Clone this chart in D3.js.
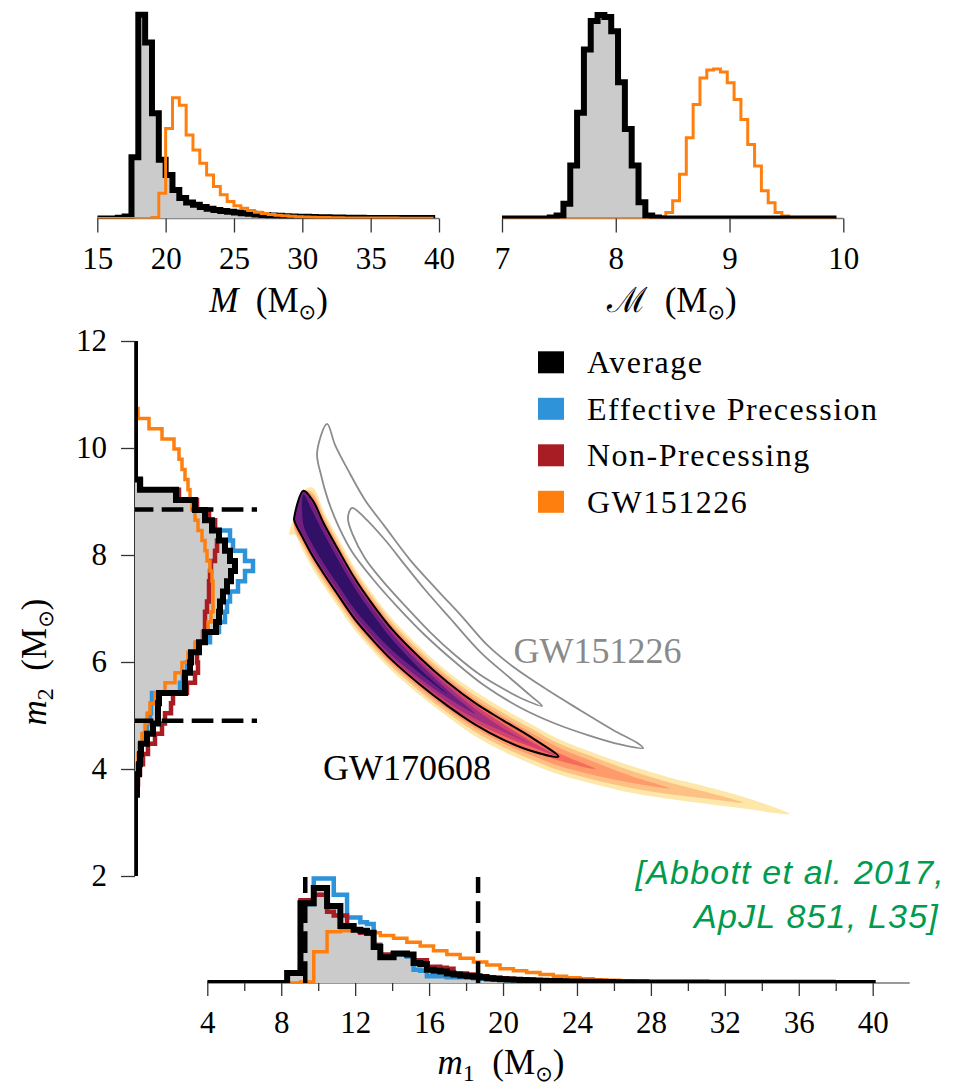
<!DOCTYPE html>
<html><head><meta charset="utf-8">
<script src="https://cdnjs.cloudflare.com/ajax/libs/d3/7.8.5/d3.min.js"></script>
<style>
body{margin:0;background:#fff;}
svg{display:block;}
</style></head><body>
<svg id="chart" width="957" height="1088"></svg>
<script>
// ---------------- DATA ----------------
// total mass M histogram (bins of 0.5 starting at 15)
const totalMassStart = 15, totalMassWidth = 0.5;
const totalMassAverage = [0,0,0,0.004,0.01,0.30,1.0,0.864,0.517,0.288,0.214,0.14,0.1,0.079,0.067,0.056,0.048,0.042,0.037,0.033,0.029,0.026,0.023,0.02,0.017,0.015,0.013,0.011,0.01,0.009,0.008,0.007,0.006,0.006,0.005,0.005,0.004,0.004,0.004,0.003,0.003,0.003,0.003,0.002,0.002,0.002,0.002,0.002,0.002];
const totalMassGW151226 = [0,0,0,0,0,0,0,0,0.005,0.124,0.442,0.592,0.556,0.41,0.336,0.271,0.214,0.157,0.116,0.083,0.063,0.05,0.039,0.031,0.025,0.02,0.016,0.013,0.011,0.009,0.007,0.006,0.005,0.005,0.004,0.004,0.003,0.003,0.003,0.002,0.002,0.002,0.002,0.002,0.001,0.001,0.001,0.001,0.001];
// chirp mass histogram (bins of 0.06 starting at 7)
const chirpStart = 7, chirpWidth = 0.06;
const chirpAverage = [0,0,0,0,0,0,0,0.005,0.015,0.072,0.26,0.52,0.83,0.97,1.0,0.99,0.92,0.67,0.44,0.26,0.08,0.015,0.005,0,0,0,0,0,0,0,0,0,0,0,0,0,0,0,0,0,0,0,0,0,0,0,0,0,0];
const chirpGW151226 = [0,0,0,0,0,0,0,0,0,0,0,0,0,0,0,0,0,0,0,0,0,0,0,0.01,0.03,0.087,0.217,0.397,0.56,0.69,0.73,0.735,0.72,0.667,0.585,0.487,0.364,0.258,0.136,0.078,0.03,0.012,0.005,0,0,0,0,0,0];
// m1 histograms
const m1Start = 4, m1Width = 0.36;
const m1Average = [0,0,0,0,0,0,0,0,0,0,0,0,
 0.105,0.105,0.84,0.84,1.0,1.0,0.81,0.81,0.6,0.6,
 0.56,0.55,0.53,0.38,0.27,0.27,0.31,0.31,0.3,0.21,
 0.2,0.14,0.13,0.12,0.1,0.09,0.08,0.075,0.065,0.06,
 0.05,0.045,0.04,0.037,0.034,0.031,0.028,0.026,0.024,0.022,
 0.02,0.018,0.017,0.015,0.014,0.013,0.012,0.011,0.01,0.009,
 0.008,0.008,0.007,0.007,0.006,0.006,0.005,0.005,0.005,0.004,
 0.004,0.004,0.004,0.003,0.003,0.003,0.003,0.003,0.003,0.002,
 0.002,0.002,0.002,0.002,0.002,0.002,0.002,0.002,0.002,0.002,
 0.002,0.002,0.001,0.001,0.001,0.001,0.001,0.001];
const m1Effective = [0,0,0,0,0,0,0,0,0,0,0,0,
 0.1,0.1,0.83,0.83,1.1,1.1,1.1,0.93,0.93,0.69,
 0.69,0.64,0.62,0.4,0.27,0.27,0.3,0.3,0.28,0.14,
 0.13,0.07,0.07,0.07,0.06,0.06,0.06,0.055,0.05,0.045,
 0.04,0.037,0.034,0.03,0.028,0.026,0.024,0.022,0.02,0.018,
 0.017,0.015,0.014,0.013,0.012,0.011,0.01,0.009,0.009,0.008,
 0.008,0.007,0.007,0.006,0.006,0.005,0.005,0.005,0.004,0.004,
 0.004,0.004,0.004,0.003,0.003,0.003,0.003,0.003,0.003,0.002,
 0.002,0.002,0.002,0.002,0.002,0.002,0.002,0.002,0.002,0.002,
 0.002,0.002,0.001,0.001,0.001,0.001,0.001,0.001];
const m1NonPrecessing = [0,0,0,0,0,0,0,0,0,0,0,0,
 0.11,0.11,0.87,0.87,0.93,0.93,0.75,0.71,0.71,0.56,
 0.56,0.53,0.52,0.4,0.3,0.3,0.31,0.31,0.3,0.24,
 0.24,0.17,0.17,0.16,0.15,0.1,0.1,0.09,0.08,0.07,
 0.06,0.055,0.05,0.045,0.04,0.036,0.033,0.03,0.027,0.025,
 0.023,0.021,0.019,0.017,0.016,0.015,0.014,0.013,0.012,0.011,
 0.01,0.009,0.009,0.008,0.008,0.007,0.007,0.006,0.006,0.005,
 0.005,0.005,0.004,0.004,0.004,0.004,0.003,0.003,0.003,0.003,
 0.003,0.003,0.003,0.002,0.002,0.002,0.002,0.002,0.002,0.002,
 0.002,0.002,0.001,0.001,0.001,0.001,0.001,0.001];
const m1GWStart = 4, m1GWWidth = 0.72;
const m1GW151226 = [0,0,0,0,0,0,0,0.01,0.33,0.54,
 0.55,0.56,0.53,0.5,0.47,0.43,0.39,0.34,0.3,0.26,
 0.22,0.19,0.15,0.13,0.11,0.09,0.07,0.055,0.045,0.035,
 0.028,0.02,0.015,0.01,0.007,0.005,0.004,0.003,0.002,0.002,
 0.001,0.001,0.001,0.001,0.001,0.001,0.001,0.001,0.001,0.001];
// m2 histograms
const m2Start = 2, m2Width = 0.19;
const m2Average = [0,0,0,0,0,0,0,0,
 0.02,0.02,0.04,0.05,0.06,0.12,0.18,0.23,0.23,0.24,
 0.5,0.5,0.55,0.56,0.64,0.7,0.81,0.84,0.85,0.88,
 0.92,0.96,1.0,0.95,0.9,0.84,0.77,0.7,0.6,0.41,
 0.05,0,0,0,0,0,0,0,0,0];
const m2Effective = [0,0,0,0,0,0,0,0,
 0.01,0.02,0.03,0.04,0.05,0.09,0.12,0.15,0.16,0.17,
 0.45,0.48,0.52,0.56,0.62,0.75,0.84,0.9,0.92,0.95,
 1.03,1.1,1.18,1.1,0.98,0.95,0.8,0.73,0.6,0.42,
 0.05,0,0,0,0,0,0,0,0,0];
const m2NonPrecessing = [0,0,0,0,0,0,0,0,
 0.02,0.03,0.05,0.08,0.13,0.2,0.27,0.3,0.36,0.38,
 0.52,0.6,0.63,0.62,0.64,0.68,0.7,0.7,0.72,0.74,
 0.74,0.75,0.76,0.8,0.82,0.84,0.8,0.74,0.62,0.44,
 0.06,0,0,0,0,0,0,0,0,0];
const m2GW151226 = [0,0,0,0,0,0,0,0,
 0.01,0.02,0.02,0.03,0.04,0.07,0.1,0.12,0.15,0.2,
 0.3,0.4,0.47,0.53,0.6,0.68,0.73,0.76,0.78,0.78,
 0.78,0.77,0.75,0.72,0.7,0.67,0.63,0.6,0.57,0.55,
 0.53,0.5,0.47,0.44,0.39,0.27,0.14,0.03,0,0];
// 90% credible intervals (dashed)
const m1Interval = [9.3, 18.65];
const m2Interval = [4.9, 8.85];
// GW170608 2D posterior: ridge line (m1, m2) and half-widths in m2 per density level
const bandM1 = [8.45,8.7,9.2,9.7,10.3,11,12,13,14,15.5,17,18.5,20,21.5,23,25,27,29,31,33,35.5];
const bandM2 = [9.35,9.15,8.85,8.5,8.12,7.72,7.17,6.72,6.32,5.83,5.4,5.03,4.73,4.47,4.23,4.0,3.8,3.64,3.51,3.37,3.16];
const bandShades = [0.95,0.87,0.79,0.69,0.57,0.46,0.33,0.18];
const bandLevels = [
 [0.98,0.76,0.79,0.76,0.7,0.65,0.58,0.53,0.49,0.45,0.42,0.42,0.4,0.37,0.33,0.29,0.25,0.2,0.16,0.11,0],
 [null,0.67,0.7,0.67,0.62,0.57,0.51,0.46,0.42,0.38,0.35,0.34,0.32,0.29,0.25,0.21,0.16,0.11,0.06,0,null],
 [null,0.61,0.64,0.61,0.56,0.51,0.45,0.4,0.36,0.32,0.29,0.27,0.25,0.21,0.17,0.12,0.06,0,null,null,null],
 [null,0.56,0.59,0.56,0.51,0.46,0.41,0.36,0.32,0.27,0.24,0.21,0.18,0.13,0.07,0,null,null,null,null,null],
 [null,0.53,0.56,0.53,0.48,0.43,0.38,0.33,0.29,0.24,0.2,0.16,0.11,0.05,0,null,null,null,null,null,null],
 [null,0.5,0.53,0.5,0.45,0.4,0.35,0.3,0.26,0.2,0.15,0.09,0.03,0,null,null,null,null,null,null,null],
 [null,0.46,0.49,0.46,0.41,0.36,0.31,0.26,0.21,0.14,0.07,0,null,null,null,null,null,null,null,null,null],
 [null,null,0.28,0.31,0.28,0.24,0.2,0.15,0.1,0.04,0,null,null,null,null,null,null,null,null,null,null]
];
const band90 = [null,0.5,0.55,0.52,0.47,0.43,0.38,0.33,0.29,0.25,0.22,0.2,0.18,0.13,0,null,null,null,null,null,null];
// GW151226 credible contours (m1, m2)
const gw151226Outer = [[10.48,10.45],[10.91,10.06],[11.61,9.59],[12.53,9.03],[13.61,8.53],[14.97,7.91],[16.43,7.35],[17.78,6.85],[19.14,6.32],[20.55,5.91],[22.39,5.48],[24.17,5.10],[25.95,4.73],[27.25,4.49],[27.58,4.39],[26.33,4.46],[24.71,4.62],[22.81,4.85],[20.92,5.15],[19.03,5.55],[17.40,6.0],[15.78,6.5],[14.26,7.04],[12.91,7.57],[11.83,8.06],[11.07,8.56],[10.53,9.03],[10.15,9.50],[9.94,9.91]];
const gw151226Inner = [[11.83,8.88],[12.53,8.69],[13.62,8.28],[14.70,7.81],[15.78,7.35],[17.13,6.82],[18.76,6.19],[20.38,5.70],[21.46,5.38],[22.11,5.18],[21.19,5.29],[20.11,5.48],[18.76,5.76],[17.40,6.13],[16.05,6.56],[14.70,7.05],[13.45,7.53],[12.53,7.94],[11.88,8.37],[11.61,8.69]];
// ticks
const totalMassTicks = [15,20,25,30,35,40];
const chirpTicks = [7,8,9,10];
const m1Ticks = [4,8,12,16,20,24,28,32,36,40];
const m1MinorTicks = [6,10,14,18,22,26,30,34,38];
const m1SpineRange = [4,42];
const m2Ticks = [2,4,6,8,10,12];
// legend
const legendLabels = ['Average','Effective Precession','Non-Precessing','GW151226'];
const legendColors = ['#000000','#2e93d9','#a71d23','#ff7f0e'];

// ---------------- DRAWING ----------------
const C = {avg:'#000000', eff:'#2e93d9', non:'#a71d23', gw:'#ff7f0e', fill:'#cbcbcb'};
const SERIF = '"Liberation Serif","Times New Roman",serif';
const svg = d3.select('#chart');
const defs = svg.append('defs');

const xM = d3.scaleLinear().domain([15,40]).range([97.3,439]);
const xMc = d3.scaleLinear().domain([7,10]).range([502,843.3]);
const yTL = d3.scaleLinear().domain([0,1]).range([218.5,14.7]);
const yTR = d3.scaleLinear().domain([0,1]).range([218.5,15]);
const x1 = d3.scaleLinear().domain([4,40]).range([207.3,872.7]);
const y2 = d3.scaleLinear().domain([2,12]).range([876,341]);
const h1 = d3.scaleLinear().domain([0,1]).range([983,888]);
const h2 = d3.scaleLinear().domain([0,1]).range([135,235]);

function clip(id,x,y,w,h){defs.append('clipPath').attr('id',id).append('rect').attr('x',x).attr('y',y).attr('width',w).attr('height',h);}
clip('cTL', xM(15), 0, xM(40)-xM(15), yTL(0));
clip('cTR', xMc(7), 0, xMc(10)-xMc(7), yTR(0));
clip('cB', x1(4), 800, x1(42)-x1(4), h1(0)-800);
clip('cL', h2(0), 300, 400, 620);

function stepPts(start,width,vals,extendTo){
  const pts=[[start,0]];
  vals.forEach((v,i)=>{pts.push([start+i*width,v],[start+(i+1)*width,v]);});
  pts.push([start+vals.length*width,0]);
  if(extendTo!==undefined) pts.push([extendTo,0]);
  return pts;
}
function horiz(xs,ys){return d3.line().x(p=>xs(p[0])).y(p=>ys(p[1]));}
function vert(){return d3.line().x(p=>h2(p[1])).y(p=>y2(p[0]));}

function drawHist(g,gen,pts,color,lw,fill){
  if(fill) g.append('path').attr('d',gen(pts)+'Z').attr('fill',fill).attr('stroke','none');
  else g.append('path').attr('d',gen(pts)).attr('fill','none').attr('stroke',color)
    .attr('stroke-width',lw).attr('stroke-linejoin','miter').attr('stroke-miterlimit',10);
}

// spines
svg.append('line').attr('x1',xM(15)).attr('x2',xM(40)).attr('y1',yTL(0)).attr('y2',yTL(0)).attr('stroke','#777').attr('stroke-width',1.3);
svg.append('line').attr('x1',xMc(7)).attr('x2',xMc(10)).attr('y1',yTR(0)).attr('y2',yTR(0)).attr('stroke','#777').attr('stroke-width',1.3);
svg.append('line').attr('x1',x1(m1SpineRange[0])).attr('x2',x1(m1SpineRange[1])).attr('y1',h1(0)).attr('y2',h1(0)).attr('stroke','#777').attr('stroke-width',1.3);
svg.append('line').attr('x1',h2(0)).attr('x2',h2(0)).attr('y1',y2(2)).attr('y2',y2(12)).attr('stroke','#000').attr('stroke-width',1.6);

// top-left: total mass
{
  const g = svg.append('g').attr('clip-path','url(#cTL)');
  const gen = horiz(xM,yTL);
  const pa = stepPts(totalMassStart,totalMassWidth,totalMassAverage);
  drawHist(g,gen,pa,null,0,C.fill);
  drawHist(g,gen,pa,C.avg,6);
  drawHist(g,gen,stepPts(totalMassStart,totalMassWidth,totalMassGW151226),C.gw,3);
}
// top-right: chirp mass
{
  const g = svg.append('g').attr('clip-path','url(#cTR)');
  const gen = horiz(xMc,yTR);
  const pa = stepPts(chirpStart,chirpWidth,chirpAverage);
  drawHist(g,gen,pa,null,0,C.fill);
  drawHist(g,gen,stepPts(chirpStart,chirpWidth,chirpGW151226),C.gw,3);
  drawHist(g,gen,pa,C.avg,6);
}

// 2D posterior of GW170608
function bandPolygon(hw){
  const up=[],lo=[];
  for(let i=0;i<bandM1.length;i++){
    const w=hw[i]; if(w===null||w===undefined) continue;
    const m=bandM1[i], c=bandM2[i];
    const u=Math.min(c+w,m), l=Math.min(c-w,u);
    up.push([m,u]); lo.push([m,l]);
  }
  const all=up.concat(lo.reverse()), out=[];
  all.forEach(p=>{const q=out[out.length-1]; if(!q||Math.abs(q[0]-p[0])>1e-9||Math.abs(q[1]-p[1])>1e-9) out.push(p);});
  const f=out[0], l=out[out.length-1];
  if(Math.abs(f[0]-l[0])<1e-9&&Math.abs(f[1]-l[1])<1e-9) out.pop();
  return out;
}
const closed = d3.line().x(p=>x1(p[0])).y(p=>y2(p[1])).curve(d3.curveCatmullRomClosed.alpha(0.5));
{
  const g = svg.append('g');
  bandLevels.forEach((lev,i)=>{
    g.append('path').attr('d',closed(bandPolygon(lev))).attr('fill',d3.interpolateMagma(bandShades[i])).attr('stroke','none');
  });
  g.append('path').attr('d',closed(bandPolygon(band90))).attr('fill','none').attr('stroke','#000').attr('stroke-width',2);
  g.append('path').attr('d',closed(gw151226Outer)).attr('fill','none').attr('stroke','#8c8c8c').attr('stroke-width',1.8);
  g.append('path').attr('d',closed(gw151226Inner)).attr('fill','none').attr('stroke','#8c8c8c').attr('stroke-width',1.8);
}

// bottom: m1 marginal
{
  const g = svg.append('g').attr('clip-path','url(#cB)');
  const gen = horiz(x1,h1);
  const pa = stepPts(m1Start,m1Width,m1Average);
  drawHist(g,gen,pa,null,0,C.fill);
  drawHist(g,gen,stepPts(m1Start,m1Width,m1Effective),C.eff,4.5);
  drawHist(g,gen,stepPts(m1Start,m1Width,m1NonPrecessing),C.non,4.5);
  drawHist(g,gen,stepPts(m1GWStart,m1GWWidth,m1GW151226),C.gw,3.5);
  drawHist(g,gen,pa,C.avg,6);
}
// left: m2 marginal
{
  const g = svg.append('g').attr('clip-path','url(#cL)');
  const gen = vert();
  const pa = stepPts(m2Start,m2Width,m2Average,12);
  drawHist(g,gen,pa,null,0,C.fill);
  drawHist(g,gen,stepPts(m2Start,m2Width,m2Effective,12),C.eff,4.5);
  drawHist(g,gen,stepPts(m2Start,m2Width,m2NonPrecessing,12),C.non,4.5);
  drawHist(g,gen,stepPts(m2Start,m2Width,m2GW151226,12),C.gw,3.5);
  drawHist(g,gen,pa,C.avg,6);
}
// dashed credible interval lines
m1Interval.forEach(v=>{
  svg.append('line').attr('x1',x1(v)).attr('x2',x1(v)).attr('y1',h1(0)).attr('y2',h1(1.116))
    .attr('stroke','#000').attr('stroke-width',4.5).attr('stroke-dasharray','21.7 8.3');
});
m2Interval.forEach(v=>{
  svg.append('line').attr('x1',h2(0)).attr('x2',h2(1.22)).attr('y1',y2(v)).attr('y2',y2(v))
    .attr('stroke','#000').attr('stroke-width',4.5).attr('stroke-dasharray','21.7 8.3').attr('stroke-dashoffset',3.3);
});

// axes
function styleAxis(g,fs){
  g.select('.domain').remove();
  g.attr('font-family',SERIF).attr('font-size',fs);
  g.selectAll('.tick line').attr('stroke','#333').attr('stroke-width',1.3);
  g.selectAll('.tick text').attr('fill','#000');
}
styleAxis(svg.append('g').attr('transform',`translate(0,${yTL(0)})`)
  .call(d3.axisBottom(xM).tickValues(totalMassTicks).tickSize(14).tickPadding(14).tickFormat(d3.format('d'))),31);
styleAxis(svg.append('g').attr('transform',`translate(0,${yTR(0)})`)
  .call(d3.axisBottom(xMc).tickValues(chirpTicks).tickSize(14).tickPadding(14).tickFormat(d3.format('d'))),31);
styleAxis(svg.append('g').attr('transform',`translate(0,${h1(0)})`)
  .call(d3.axisBottom(x1).tickValues(m1Ticks).tickSize(13).tickPadding(15).tickFormat(d3.format('d'))),31);
styleAxis(svg.append('g').attr('transform',`translate(0,${h1(0)})`)
  .call(d3.axisBottom(x1).tickValues(m1MinorTicks).tickSize(8).tickFormat('')),31);
styleAxis(svg.append('g').attr('transform',`translate(${h2(0)},0)`)
  .call(d3.axisLeft(y2).tickValues(m2Ticks).tickSize(14).tickPadding(14).tickFormat(d3.format('d'))),31);

// axis labels with subscripts
function richText(x,y,parts,opts){
  const t = svg.append('text').attr('x',x).attr('y',y).attr('font-family',SERIF)
    .attr('font-size',opts.size).attr('text-anchor','middle').attr('fill','#000');
  if(opts.rotate) t.attr('transform',`rotate(-90,${x},${y})`);
  parts.forEach(p=>{
    const s = t.append('tspan').text(p.t);
    if(p.i) s.attr('font-style','italic');
    if(p.f) s.attr('font-family',p.f);
    if(p.s) s.attr('font-size',p.s);
    if(p.dy) s.attr('dy',p.dy);
  });
  return t;
}
const SYM = '"DejaVu Sans",sans-serif';
const SP = '\u2002';
richText(268.5,311.5,[{t:'M',i:1},{t:SP+'(M'},{t:'\u2299',f:SYM,s:21,dy:7},{t:')',dy:-7}],{size:35});
richText(672,311.5,[{t:'\u2133',f:'"DejaVu Serif",serif'},{t:SP+'(M'},{t:'\u2299',f:SYM,s:21,dy:7},{t:')',dy:-7}],{size:35});
richText(501,1074,[{t:'m',i:1},{t:'1',s:24,dy:7},{t:SP+'(M',dy:-7},{t:'\u2299',f:SYM,s:21,dy:7},{t:')',dy:-7}],{size:35});
richText(46,662,[{t:'m',i:1},{t:'2',s:24,dy:7},{t:SP+'(M',dy:-7},{t:'\u2299',f:SYM,s:21,dy:7},{t:')',dy:-7}],{size:35,rotate:1});

// event labels
svg.append('text').attr('x',407).attr('y',780).attr('text-anchor','middle').attr('font-family',SERIF)
  .attr('font-size',36).attr('fill','#000').text('GW170608');
svg.append('text').attr('x',597.5).attr('y',663).attr('text-anchor','middle').attr('font-family',SERIF)
  .attr('font-size',36).attr('fill','#8a8a8a').text('GW151226');

// legend
const lg = svg.append('g');
legendLabels.forEach((lab,i)=>{
  const cy = 362.3 + i*46.5;
  lg.append('rect').attr('x',538).attr('y',cy-11).attr('width',26).attr('height',22).attr('fill',legendColors[i]);
  lg.append('text').attr('x',587).attr('y',cy+11).attr('font-family',SERIF).attr('font-size',32)
    .attr('letter-spacing','1.5px').attr('fill','#000').text(lab);
});

// citation
const cite = svg.append('g').attr('font-family','"Liberation Sans",Arial,sans-serif').attr('font-style','italic')
  .attr('font-size',34).attr('letter-spacing','1.2px').attr('fill','#009b4e').attr('text-anchor','end');
cite.append('text').attr('x',945).attr('y',884).text('[Abbott et al. 2017,');
cite.append('text').attr('x',939).attr('y',928).text('ApJL 851, L35]');
</script>
</body></html>
